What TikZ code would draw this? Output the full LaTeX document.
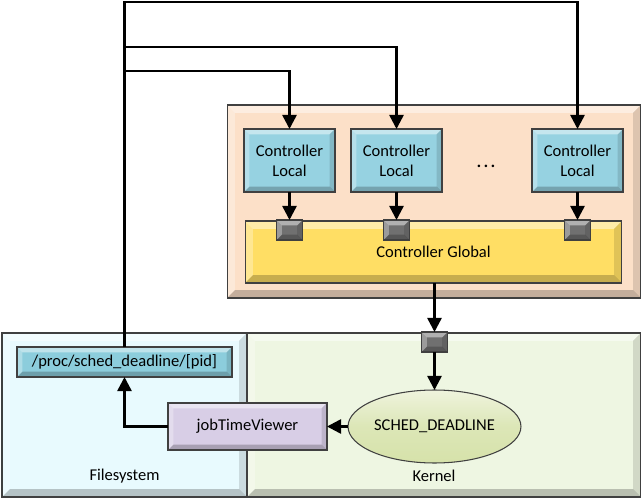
\documentclass[tikz,border=0pt]{standalone}
\usepackage{fontspec}
\setmainfont{Carlito}
\usetikzlibrary{arrows.meta,shapes.geometric}
\definecolor{peach}{RGB}{252,224,200}
\definecolor{clblue}{RGB}{150,210,225}
\definecolor{cgyellow}{RGB}{255,222,100}
\definecolor{portgray}{RGB}{112,112,112}
\definecolor{fscyan}{RGB}{232,250,254}
\definecolor{kgreen}{RGB}{238,246,226}
\definecolor{procblue}{RGB}{140,205,220}
\definecolor{jtvpurple}{RGB}{216,206,230}
\definecolor{ellgreen}{RGB}{214,226,170}
\definecolor{edge}{RGB}{64,64,64}
\begin{document}
\begin{tikzpicture}[x=.02cm,y=-.02cm,font=\fontsize{9.4}{11.3}\selectfont,
  bevel/.style={path picture={
    \fill[white,opacity=.45] (path picture bounding box.north west) -- (path picture bounding box.north east)
      -- ([shift={(-#1,-#1)}]path picture bounding box.north east) -- ([shift={(#1,-#1)}]path picture bounding box.north west) -- cycle;
    \fill[white,opacity=.3] (path picture bounding box.north west) -- ([shift={(#1,-#1)}]path picture bounding box.north west)
      -- ([shift={(#1,#1)}]path picture bounding box.south west) -- (path picture bounding box.south west) -- cycle;
    \fill[black,opacity=.22] (path picture bounding box.south west) -- ([shift={(#1,#1)}]path picture bounding box.south west)
      -- ([shift={(-#1,#1)}]path picture bounding box.south east) -- (path picture bounding box.south east) -- cycle;
    \fill[black,opacity=.12] (path picture bounding box.south east) -- ([shift={(-#1,#1)}]path picture bounding box.south east)
      -- ([shift={(-#1,-#1)}]path picture bounding box.north east) -- (path picture bounding box.north east) -- cycle;}},
  box/.style={draw=edge,line width=.6pt,inner sep=0pt,outer sep=0pt,align=center,bevel=3pt},
  bigbox/.style={box,bevel=4.5pt},
  port/.style={box,fill=portgray,minimum width=.52cm,minimum height=.4cm},
  wire/.style={line width=1.4pt,-{Triangle[length=8pt,width=8pt]}}]
\useasboundingbox (0,0) rectangle (643,500);
%%%%
\node[bigbox,fill=peach,minimum width=8.28cm,minimum height=3.86cm] (ctrl) at (434,201.5) {};
\node[bigbox,fill=cgyellow,minimum width=7.54cm,minimum height=1.24cm] (global) at (433.5,252) {Controller Global};
\foreach \n/\x in {1/289.5,2/396.5,3/577.5} {
  \node[box,fill=clblue,minimum width=1.82cm,minimum height=1.26cm] (cl\n) at (\x,160.5) {Controller\\Local};
  \node[port] (p\n) at (\x,230) {};
}
\node[anchor=base,font=\fontsize{12}{14}\selectfont] (dots) at (486,168) {.\hspace{1pt}.\hspace{1pt}.};
%%%%
\node[bigbox,fill=fscyan,minimum width=4.9cm,minimum height=3.28cm] (fs) at (124.5,415) {};
\node[bigbox,fill=kgreen,minimum width=7.88cm,minimum height=3.28cm] (kernel) at (444,415) {};
\node (fslabel) at (124.5,476) {Filesystem};
\node (klabel) at (434,476) {Kernel};
\node[box,fill=procblue,minimum width=4.3cm,minimum height=.6cm] (proc) at (124.5,362) {/proc/sched\_deadline/[pid]};
\node[port] (kp) at (434.5,342) {};
\node[ellipse,draw=edge,line width=.6pt,inner sep=0pt,outer sep=0pt,top color=ellgreen!40,bottom color=ellgreen,
  middle color=ellgreen!85,minimum width=3.46cm,minimum height=1.46cm] (sched) at (434.5,426.5) {SCHED\_DEADLINE};
\node[box,fill=jtvpurple,minimum width=3.18cm,minimum height=.94cm] (jtv) at (247.5,426.5) {jobTimeViewer};
%%%%
\coordinate (w3) at (124.5,2);
\coordinate (w2) at (124.5,47);
\coordinate (w1) at (124.5,71);
\draw[wire,line join=miter] (proc.north) -- (w3) -| (cl3.north);
\draw[wire] (w2) -| (cl2.north);
\draw[wire] (w1) -| (cl1.north);
\foreach \n in {1,2,3}
\draw[wire] (cl\n) -- (p\n);
\draw[wire] (global.south -| kp) -- (kp);
\draw[wire] (kp) -- (sched);
\draw[wire] (sched) -- (jtv);
\draw[wire] (jtv.west) -| (proc.south);
\end{tikzpicture}
\end{document}
